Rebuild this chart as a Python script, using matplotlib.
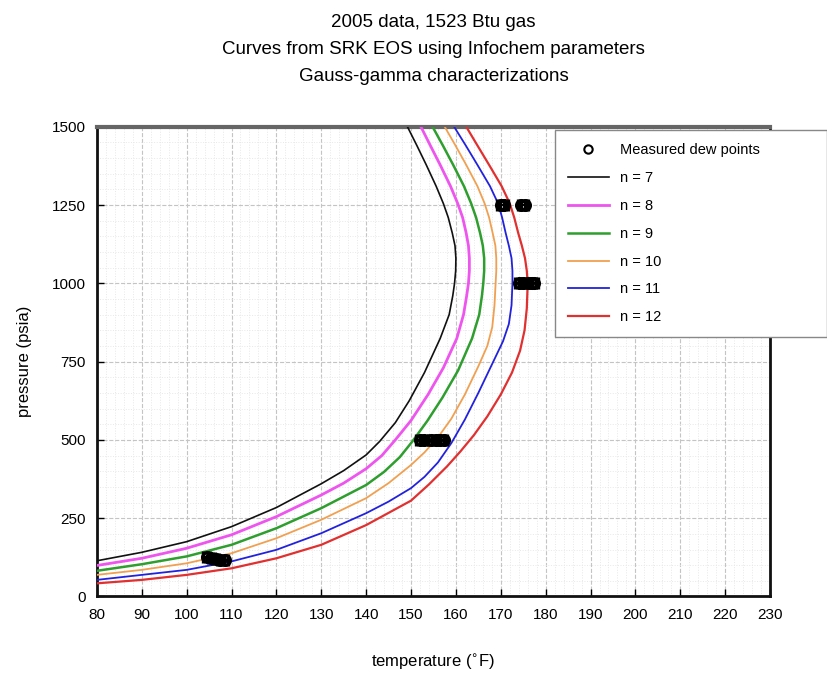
import matplotlib
matplotlib.use("Agg")
import matplotlib.pyplot as plt
from matplotlib.lines import Line2D
from matplotlib.ticker import MultipleLocator

plt.rcParams['font.family'] = ['Liberation Sans', 'DejaVu Sans']

# Dew-point curves (temperature degF, pressure psia) for each number of pseudo-components
t_n7 = [80, 90, 100, 110, 120, 130, 135, 140, 143, 146.5, 149.6, 153.0, 156.5, 158.5, 159.3, 159.7,
        159.95, 160.0, 159.8, 159.2, 158.3, 157.2, 155.6, 153.4, 151.3, 149.2]
p_n7 = [114, 141, 175, 223, 284, 360, 402, 452, 495, 555, 625, 715, 824, 900, 960, 1000,
        1040, 1080, 1120, 1160, 1210, 1255, 1310, 1378, 1440, 1500]

t_n8 = [80, 90, 100, 110, 120, 130, 135, 140, 143.5, 146.5, 150.0, 153.8, 157.2, 160.2, 161.7, 162.4,
        162.8, 163.0, 163.0, 162.8, 162.3, 161.5, 160.4, 158.8, 156.5, 154.3, 152.2]
p_n8 = [99, 122, 154, 197, 255, 324, 362, 408, 450, 500, 562, 645, 730, 824, 900, 960,
        1000, 1040, 1080, 1120, 1160, 1210, 1255, 1310, 1378, 1440, 1500]

t_n9 = [80, 90, 100, 110, 120, 130, 140, 144, 147.5, 150.3, 153.6, 157.0, 160.5, 163.6, 165.2, 165.8,
        166.1, 166.3, 166.3, 166.0, 165.4, 164.5, 163.4, 161.8, 159.4, 157.1, 154.8]
p_n9 = [82, 103, 128, 165, 218, 282, 356, 398, 445, 495, 560, 635, 722, 824, 900, 960,
        1000, 1040, 1080, 1120, 1160, 1210, 1255, 1310, 1378, 1440, 1500]

t_n10 = [80, 90, 100, 110, 120, 130, 140, 145, 150, 153, 156, 159, 162, 165, 167, 168.1, 168.6,
         168.85, 169.0, 169.0, 168.8, 168.2, 167.4, 166.4, 164.8, 162.3, 159.9, 157.5]
p_n10 = [69, 85, 106, 138, 186, 245, 314, 362, 420, 460, 508, 568, 645, 735, 800, 860, 930,
         1000, 1040, 1080, 1120, 1160, 1210, 1255, 1310, 1378, 1440, 1500]

t_n11 = [80, 90, 100, 110, 120, 130, 140, 145, 150, 153, 156, 159, 162, 165, 168, 170.5, 171.8, 172.4,
         172.6, 172.6, 172.4, 171.8, 171.1, 170.3, 169.4, 167.6, 164.8, 162.2, 159.6]
p_n11 = [53, 69, 85, 112, 149, 202, 266, 303, 346, 382, 428, 490, 565, 650, 740, 815, 870, 930,
         1000, 1040, 1080, 1120, 1160, 1210, 1255, 1310, 1378, 1440, 1500]

t_n12 = [80, 90, 100, 110, 120, 130, 140, 150, 154, 158, 161, 164, 167, 170, 172.5, 174.3, 175.3, 175.8,
         176.0, 175.8, 175.4, 174.7, 173.9, 173.0, 172.0, 170.2, 167.4, 164.8, 162.3]
p_n12 = [42, 53, 69, 90, 122, 165, 228, 306, 358, 415, 463, 515, 575, 645, 715, 785, 850, 920,
         1000, 1040, 1080, 1120, 1160, 1210, 1255, 1310, 1378, 1440, 1500]

# Measured dew points
meas_t = [104.5, 105.5, 106.5, 107.5, 108.5,
          152.0, 153.0, 154.5, 155.5, 156.5, 157.3,
          174.0, 175.0, 176.0, 177.0, 177.5,
          170.0, 170.7, 174.6, 175.3]
meas_p = [125, 122, 120, 118, 117,
          500, 500, 500, 500, 500, 500,
          1000, 1000, 1000, 1000, 1000,
          1250, 1250, 1250, 1250]

curve_labels = ['n = 7', 'n = 8', 'n = 9', 'n = 10', 'n = 11', 'n = 12']
curve_colors = ['#111111', '#ee55ee', '#2e9e2e', '#f0a050', '#2222dd', '#e03030']
curve_widths = [1.2, 2.0, 1.8, 1.3, 1.3, 1.6]
curve_t = [t_n7, t_n8, t_n9, t_n10, t_n11, t_n12]
curve_p = [p_n7, p_n8, p_n9, p_n10, p_n11, p_n12]

fig = plt.figure(figsize=(8.28, 6.74), dpi=100)
ax = fig.add_axes([0.117, 0.115, 0.813, 0.697])

ax.set_xlim(80, 230)
ax.set_ylim(0, 1500)
ax.xaxis.set_major_locator(MultipleLocator(10))
ax.xaxis.set_minor_locator(MultipleLocator(2))
ax.yaxis.set_major_locator(MultipleLocator(250))
ax.yaxis.set_minor_locator(MultipleLocator(50))

ax.grid(which='major', color='#c4c4c4', linestyle='--', linewidth=0.8)
ax.grid(which='minor', color='#e8e8e8', linestyle=':', linewidth=0.7)
ax.set_axisbelow(True)

handles = []
for t, p, c, w, lab in zip(curve_t, curve_p, curve_colors, curve_widths, curve_labels):
    ln, = ax.plot(t, p, color=c, linewidth=w, label=lab, zorder=3)
    handles.append(ln)

ax.errorbar(meas_t, meas_p, xerr=0.8, fmt='o', markersize=7, markerfacecolor='none',
            markeredgecolor='black', markeredgewidth=2.4, ecolor='black', elinewidth=1.4,
            capsize=4, capthick=1.4, zorder=4)

meas_handle = Line2D([], [], linestyle='none', marker='o', markersize=6,
                     markerfacecolor='none', markeredgecolor='black', markeredgewidth=1.5)

ax.tick_params(which='major', direction='in', length=5, width=1, labelsize=11, pad=8)
ax.tick_params(which='minor', length=0)
ax.tick_params(axis='x', top=False)
ax.tick_params(axis='y', right=False)

for side in ['left', 'bottom', 'right']:
    ax.spines[side].set_linewidth(2.0)
    ax.spines[side].set_color('#111111')
ax.spines['top'].set_linewidth(3.0)
ax.spines['top'].set_color('#666666')

ax.set_xlabel('temperature ($^{\\circ}$F)', fontsize=12, labelpad=22)
ax.set_ylabel('pressure (psia)', fontsize=12, labelpad=14)

ax.set_title('2005 data, 1523 Btu gas\nCurves from SRK EOS using Infochem parameters\nGauss-gamma characterizations',
             fontsize=13.5, linespacing=1.75, pad=33)

leg = fig.legend([meas_handle] + handles, ['Measured dew points'] + curve_labels,
                 loc='upper left', bbox_to_anchor=(0.670, 0.496, 0.329, 0.311),
                 mode='expand', borderaxespad=0.0, fontsize=10.5, labelspacing=0.95,
                 handlelength=2.8, handletextpad=0.8, borderpad=0.9, fancybox=False,
                 framealpha=1, edgecolor='#888888')
leg.get_frame().set_linewidth(1.0)

fig.savefig('out.png', dpi=100)
